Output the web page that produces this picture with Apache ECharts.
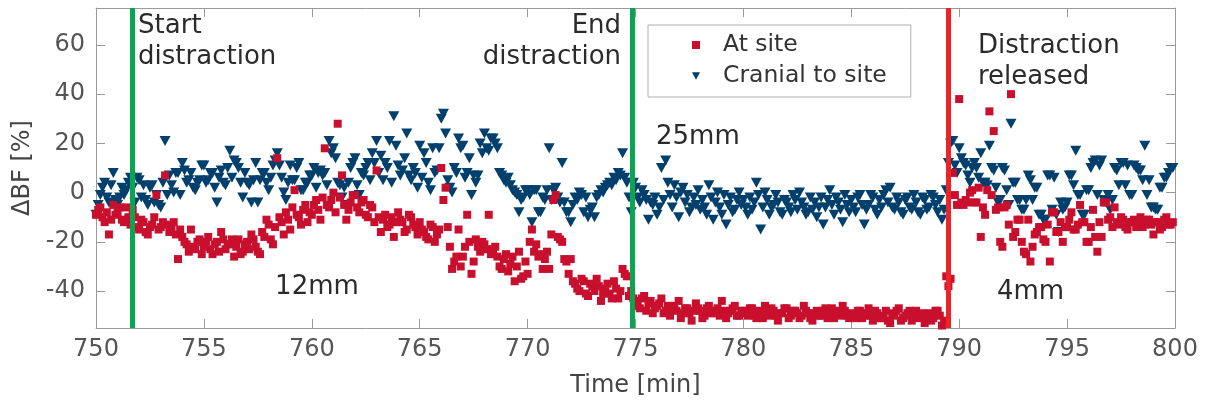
<!DOCTYPE html>
<html>
<head>
<meta charset="utf-8">
<script src="https://cdn.jsdelivr.net/npm/echarts@6/dist/echarts.min.js"></script>
<style>
  html, body { margin: 0; padding: 0; background: #fff; }
  #chart { width: 1207px; height: 406px; }
</style>
</head>
<body>
<div id="chart"></div>
<script>
// sampling clock of the recording (min)
var sampleStart = 750;
var sampleStep = 0.1;

// ΔBF [%] at the distraction site, one value per sample (rows of 5 min)
var atSite = [
  -9, -7, -6, -10, -12, -8, -17, -11, -5, -9, -8, -6, -11, -12, -6, -10, -13, -7, -10, -14, -15, -11, -12, -16, -17,
  -14, -13, -10, -1, -15, -14, -12, 7, -13, -16, -14, -12, -17, -27, -15, -18, -20, -21, -24, -15, -22, -23, -20, -19, -25,
  -22, -20, -18, -23, -25, -21, -20, -24, -16, -19, -23, -21, -21, -19, -26, -22, -19, -25, -24, -21, -20, -23, -17, -19, -22,
  -24, -25, -16, -18, -11, -13, -19, -21, -14, 14, -10, -12, -17, -8, -11, -15, -6, 1, -9, -10, -13, -7, -5, -12, -8,
  -9, -5, -3, -7, -11, -2, 18, -5, -6, -3, 0, -8, 28, -2, 7, -5, -11, -7, -4, -1, -1, -6, -8, -4, -3,
  -9, -10, -5, -6, -12, 9, -10, -16, -11, -9, -14, -13, -10, -18, -12, -8, -11, -12, -16, -15, -9, -10, -13, -14, -17,
  -12, -15, -16, -18, -19, -13, -14, -20, -17, -15, 10, -3, 2, -14, -22, -31, -28, -26, -15, -30, -26, -22, -9, -20, -33,
  -28, -19, -22, -24, -20, -21, -23, -9, -25, -23, -22, -26, -30, -31, -27, -25, -32, -29, -26, -36, -30, -24, -35, -34, -28,
  -33, -20, -15, -24, -21, -26, -25, -31, -27, -24, -31, -17, -3, -1, -18, -19, -20, -27, -28, -33, -27, -36, -37, -39, -40,
  -35, -36, -41, -42, -37, -38, -40, -35, -38, -44, -41, -39, -37, -41, -43, -36, -39, -43, -40, -31, -33, -34, -42, -40, -43,
  -44, -46, -47, -43, -42, -48, -45, -44, -49, -47, -46, -45, -43, -49, -48, -46, -50, -47, -46, -48, -44, -51, -49, -47, -47,
  -49, -52, -48, -45, -47, -48, -51, -50, -47, -46, -49, -49, -48, -47, -50, -44, -48, -51, -49, -48, -47, -46, -50, -50, -48,
  -48, -49, -50, -47, -47, -50, -51, -48, -49, -51, -46, -49, -50, -47, -48, -50, -52, -49, -49, -47, -47, -51, -50, -48, -48,
  -49, -51, -50, -46, -48, -49, -51, -52, -49, -48, -50, -50, -48, -47, -51, -49, -47, -51, -49, -48, -50, -46, -48, -50, -51,
  -49, -50, -51, -48, -48, -51, -50, -49, -47, -50, -52, -48, -49, -51, -51, -50, -48, -52, -53, -49, -50, -48, -47, -52, -51,
  -50, -49, -48, -52, -50, -48, -51, -50, -49, -53, -51, -49, -52, -51, -48, -48, -50, -54, -52, -34, -38, -35, 8, -1, -5,
  38, -4, -5, -3, -4, 0, 1, -4, -4, 2, -18, -6, -9, 1, 33, -1, 25, -7, -6, -20, -22, -6, -5, -13, 40,
  -18, -16, -11, -11, -20, -24, -25, -11, -28, -22, -17, -16, -14, -14, -19, -20, -13, -28, -8, -8, -16, -16, -12, -20, -14,
  -14, -11, -8, -15, -15, -13, -5, -12, -12, -20, -20, -14, -7, -18, -24, -12, -18, -4, -4, -11, -10, -14, -6, -12, -13,
  -10, -11, -14, -15, -12, -12, -11, -14, -12, -10, -14, -13, -11, -11, -13, -17, -12, -12, -15, -14, -11, -10, -13, -13, -12
];

// ΔBF [%] cranial to the site (rows of 5 min)
var cranial = [
  -9, -5, -1, 2, 4, -2, -4, 3, 8, -3, -5, -2, 2, -1, 1, 4, 6, 2, -4, 6, 5, -2, 3, -3, -5,
  2, 3, -4, -1, -5, -6, 4, 21, -1, 7, 3, 0, 8, 8, -1, 12, 9, 4, 5, 8, 2, 1, 4, 5, 11,
  11, 4, 5, 8, 8, 2, -4, 6, 9, 4, 3, 10, 17, 6, 13, 12, 10, 4, -2, 8, 4, 3, -4, 5, 12,
  -4, 5, 8, 8, 4, 1, 6, 11, 13, 16, 11, 6, 0, -3, 4, 11, 5, 5, 10, 12, 1, 1, 4, 4, 7,
  7, 10, 2, 8, 9, 7, 8, 3, 21, 16, 18, 14, 4, 3, -2, 2, -5, 4, 10, 12, 14, 3, -1, 8, 7,
  10, 12, 5, 16, 12, 21, 8, 15, 5, 12, 10, 21, 4, 31, 19, 11, 7, 9, 14, 24, 7, 5, 10, 8, 2,
  19, 6, 16, 12, 4, 1, 18, 8, 9, 18, 30, 32, 24, 5, 2, 0, 10, 8, 22, 18, 19, 6, 8, 14, -1,
  7, 4, 7, 20, 16, 24, 18, 17, 22, 22, 20, 18, 8, 7, 5, 4, 6, 3, 1, 0, -1, -8, -3, -2, 1,
  1, -1, -12, 1, 1, -8, -8, -2, -3, 1, 18, -3, 1, 2, -2, -4, 12, -4, -8, -8, -12, -5, -2, -3, 0,
  -1, -8, -2, -10, -7, -6, -10, -2, -1, 1, 0, 2, 3, 4, 3, 6, 5, 8, 7, 16, 6, 4, -2, -8, 4,
  2, -2, -4, 1, -1, -3, -11, -4, -5, -2, -9, -6, 10, -3, 13, 4, -1, -6, 3, -2, -10, 0, 2, -4, -1,
  -8, -6, -2, -5, 1, -7, -3, -6, -9, 3, -2, -11, -4, 0, -6, -9, -1, -13, -5, -2, -8, -7, -3, 0, -5,
  -3, -6, -9, -2, -7, -4, 4, -1, -15, -6, 0, -3, -9, -6, -5, -1, -4, -8, -9, -3, -4, -6, -8, -1, -3,
  -7, 0, -4, -6, -9, -8, -2, -7, -4, -10, -6, -2, -13, -6, -3, 1, -5, -9, -2, -4, -7, -12, -1, -5, -8,
  -3, -6, -8, -2, -1, -5, -13, -7, -5, -1, -2, -7, -9, -3, -6, -1, 1, -4, 2, -6, -7, -2, -4, -8, -9,
  -3, -2, -6, -7, -1, -4, -8, -9, -2, -3, -7, -6, -1, -2, -5, -8, -3, -11, -7, 1, 12, 20, 21, 11, 8,
  18, 14, 12, 11, 7, 4, 10, 12, 10, 6, 16, 4, 4, 3, 19, 10, 9, 2, -4, -3, 10, 9, 1, -5, 28,
  4, 4, -3, -3, -7, -7, -3, 7, 5, -3, 2, 2, -9, -9, -11, -11, 7, 7, -7, 6, -9, -16, -4, -7, -6,
  -4, 7, 7, 3, 17, -1, -1, -9, -9, 1, 1, 10, 12, 13, -1, 11, 13, -3, -3, -1, -7, -3, 10, 9, 3,
  12, 12, 3, 11, -1, -1, 11, 10, 9, 9, 5, 19, -1, 5, -6, -6, -7, -7, 2, 2, 6, 6, 8, 10, 10
];

// event markers
var eventTimes = [751.7, 774.85, 789.5];
var eventColors = ['#0aa64f', '#0aa64f', '#ec2427'];

// text annotations (anchored at their top edge)
var noteTexts = ['Start\ndistraction', 'End\ndistraction', 'Distraction\nreleased', '25mm', '12mm', '4mm'];
var noteTimes = [751.95, 774.33, 790.87, 775.95, 758.3, 791.75];
var noteValues = [73.8, 73.8, 65.7, 28.8, -32.0, -34.1];
var noteAligns = ['left', 'right', 'left', 'left', 'left', 'left'];

var yTicks = [-40, -20, 0, 20, 40, 60];

function toPoints(values) {
  var pts = [];
  for (var i = 0; i < values.length; i++) {
    pts.push([+(sampleStart + i * sampleStep).toFixed(2), values[i]]);
  }
  return pts;
}

var dom = document.getElementById('chart');
var myChart = echarts.init(dom, null, { renderer: 'canvas' });

var axisGrey = '#9a9a9a';
var font = 'DejaVu Sans';

// box axes: lines on all four sides, ticks pointing inwards
var boxLine = { show: true, onZero: false, lineStyle: { color: axisGrey, width: 1 } };

var option = {
  animation: false,
  backgroundColor: '#fff',
  textStyle: { fontFamily: font },
  grid: { left: 96, right: 32, top: 8, bottom: 78 },
  legend: {
    orient: 'vertical',
    left: 648,
    top: 25,
    padding: [8, 24, 9, 44],
    itemGap: 7,
    itemWidth: 8,
    itemHeight: 8,
    backgroundColor: '#fff',
    borderColor: '#b0b0b0',
    borderWidth: 1,
    textStyle: { fontSize: 23.5, color: '#333', fontFamily: font, padding: [0, 0, 0, 18] },
    data: [
      { name: 'At site', icon: 'rect' },
      { name: 'Cranial to site', icon: 'path://M0,0L12,0L6,11Z' }
    ]
  },
  xAxis: [
    {
      type: 'value',
      min: 750,
      max: 800,
      interval: 5,
      name: 'Time [min]',
      nameLocation: 'middle',
      nameGap: 46,
      nameTextStyle: { fontSize: 24, color: '#444', fontFamily: font },
      axisLine: boxLine,
      axisTick: { show: true, inside: true, length: 9, lineStyle: { color: axisGrey } },
      axisLabel: { color: '#555', fontSize: 24, margin: 10, fontFamily: font, showMinLabel: true, showMaxLabel: true },
      splitLine: { show: false }
    },
    {
      type: 'value',
      position: 'top',
      min: 750,
      max: 800,
      interval: 5,
      axisLine: boxLine,
      axisTick: { show: true, inside: true, length: 9, lineStyle: { color: axisGrey } },
      axisLabel: { show: false },
      splitLine: { show: false }
    }
  ],
  yAxis: [
    {
      type: 'value',
      min: -55,
      max: 75,
      name: 'ΔBF [%]',
      nameLocation: 'middle',
      nameGap: 51,
      nameTextStyle: { fontSize: 24, color: '#444', fontFamily: font },
      axisLine: boxLine,
      axisTick: { show: true, inside: true, length: 9, customValues: yTicks, lineStyle: { color: axisGrey } },
      axisLabel: { color: '#555', fontSize: 24, margin: 11, customValues: yTicks, fontFamily: font },
      splitLine: { show: false }
    },
    {
      type: 'value',
      position: 'right',
      min: -55,
      max: 75,
      axisLine: boxLine,
      axisTick: { show: true, inside: true, length: 9, customValues: yTicks, lineStyle: { color: axisGrey } },
      axisLabel: { show: false },
      splitLine: { show: false }
    }
  ],
  series: [
    {
      name: 'events',
      type: 'scatter',
      data: [],
      z: 1,
      silent: true,
      markLine: {
        silent: true,
        symbol: ['none', 'none'],
        label: { show: false },
        animation: false,
        data: eventTimes.map(function (t, i) {
          return { xAxis: t, lineStyle: { color: eventColors[i], width: 5, type: 'solid' } };
        })
      }
    },
    {
      name: 'Cranial to site',
      type: 'scatter',
      symbol: 'triangle',
      symbolRotate: 180,
      symbolSize: [11, 10],
      itemStyle: { color: '#013f6d', opacity: 1 },
      z: 3,
      data: toPoints(cranial)
    },
    {
      name: 'At site',
      type: 'scatter',
      symbol: 'rect',
      symbolSize: 8,
      itemStyle: { color: '#c8102e', opacity: 1 },
      z: 4,
      data: toPoints(atSite)
    }
  ]
};

myChart.setOption(option);

// place the annotations in data coordinates
var notes = noteTexts.map(function (txt, i) {
  var p = myChart.convertToPixel({ xAxisIndex: 0, yAxisIndex: 0 }, [noteTimes[i], noteValues[i]]);
  return {
    type: 'text',
    x: p[0],
    y: p[1],
    z: 10,
    style: {
      text: txt,
      fill: '#2b2b2b',
      font: '26px "DejaVu Sans"',
      align: noteAligns[i],
      verticalAlign: 'top',
      lineHeight: 31
    }
  };
});
myChart.setOption({ graphic: notes });

window.addEventListener('resize', myChart.resize);
</script>
</body>
</html>
